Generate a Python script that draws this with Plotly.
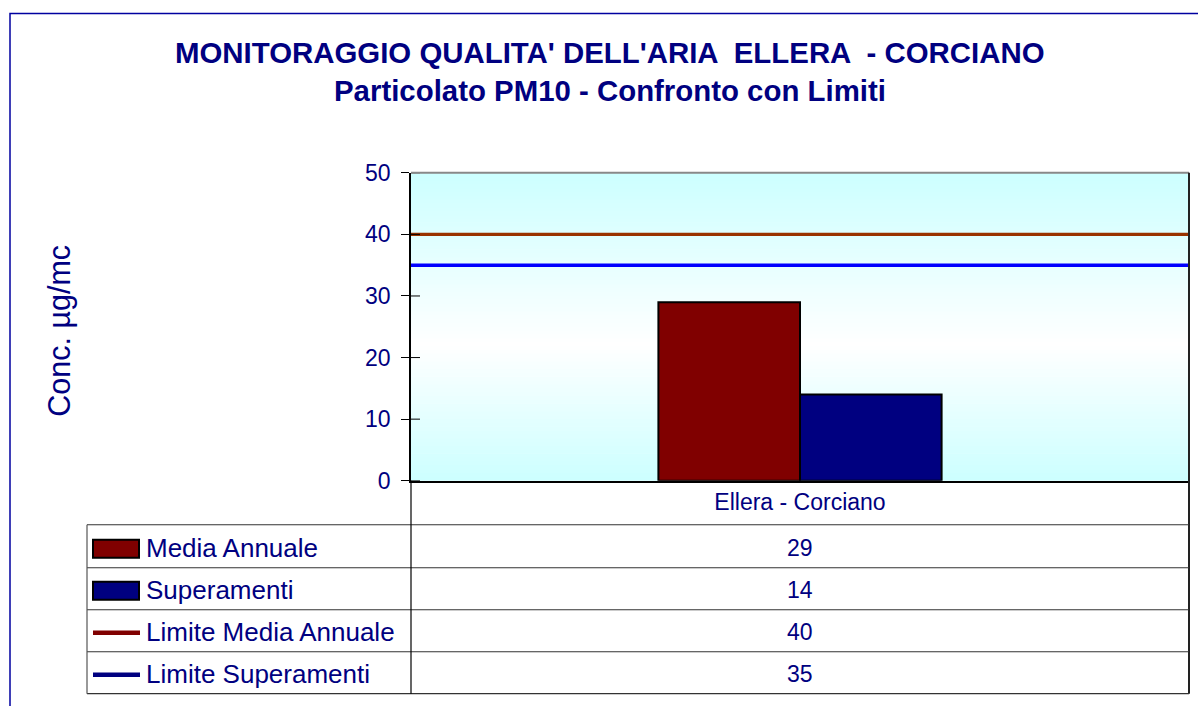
import plotly.graph_objects as go

# ---------------- data ----------------
categories = ["Ellera - Corciano"]
series_names = ["Media Annuale", "Superamenti", "Limite Media Annuale", "Limite Superamenti"]
media_annuale = [29]
superamenti = [14]
limite_media_annuale = [40]
limite_superamenti = [35]
y_ticks = [0, 10, 20, 30, 40, 50]

title_line1 = "MONITORAGGIO QUALITA' DELL'ARIA  ELLERA  - CORCIANO"
title_line2 = "Particolato PM10 - Confronto con Limiti"
y_title = "Conc. µg/mc"

# ---------------- style ----------------
W, H = 1198, 720
NAVY = "#000080"
FONT = "Liberation Sans, Arial, sans-serif"
c_media = "#800000"
c_sup = "#000080"
c_lim_media = "#993300"
c_lim_sup = "#0000FF"
c_key_lim_media = "#800000"
c_key_lim_sup = "#000080"

# vertical compensation for the capture (measured)
Y_OFF, Y_SC = 12.2, 0.964


def px(x):
    return x / W


def py(y):
    yy = (y - Y_OFF) / Y_SC
    return 1 - yy / H


PL, PR, PT, PB = 411, 1189, 172, 480

fig = go.Figure()

fig.add_trace(go.Bar(
    x=categories, y=media_annuale, name=series_names[0],
    marker=dict(color=c_media, line=dict(color="black", width=2)),
))
fig.add_trace(go.Bar(
    x=categories, y=superamenti, name=series_names[1],
    marker=dict(color=c_sup, line=dict(color="black", width=2)),
))
# limit lines across the full plot width (secondary numeric x axis)
fig.add_trace(go.Scatter(
    x=[0, 1], y=limite_media_annuale * 2, xaxis="x2", mode="lines",
    name=series_names[2], line=dict(color=c_lim_media, width=3.2),
))
fig.add_trace(go.Scatter(
    x=[0, 1], y=limite_superamenti * 2, xaxis="x2", mode="lines",
    name=series_names[3], line=dict(color=c_lim_sup, width=3.5),
))

shapes = []
# gradient background of the plot area: cyan at edges, white near the middle
top_c = (204, 255, 255)
bot_c = (204, 255, 255)
white_f = 0.44  # fraction from bottom
N = 80
for i in range(N):
    f0 = i / N
    f1 = (i + 1) / N
    fm = (f0 + f1) / 2
    if fm < white_f:
        t = fm / white_f
        c = tuple(round(bot_c[k] + (255 - bot_c[k]) * t) for k in range(3))
    else:
        t = (fm - white_f) / (1 - white_f)
        c = tuple(round(255 + (top_c[k] - 255) * t) for k in range(3))
    shapes.append(dict(type="rect", xref="x domain", yref="y domain",
                       x0=0, x1=1, y0=f0, y1=f1 + 0.002, layer="below",
                       line=dict(width=0), fillcolor="rgb(%d,%d,%d)" % c))

# inner half of the crossing tick marks
for v in y_ticks:
    shapes.append(dict(type="line", xref="x domain", yref="y",
                       x0=0, x1=9 / (PR - PL), y0=v, y1=v,
                       line=dict(color="black", width=1)))

# plot frame: grey top, dark right
shapes.append(dict(type="line", xref="paper", yref="paper",
                   x0=px(PL), x1=px(PR), y0=py(PT), y1=py(PT),
                   line=dict(color="#888888", width=2)))
shapes.append(dict(type="line", xref="paper", yref="paper",
                   x0=px(PR), x1=px(PR), y0=py(PT), y1=py(693),
                   line=dict(color="#222222", width=2)))

# data table grid
TL = 87
rows = [524, 567, 609, 651, 693]
for r in rows:
    shapes.append(dict(type="line", xref="paper", yref="paper",
                       x0=px(TL), x1=px(PR), y0=py(r), y1=py(r),
                       line=dict(color="#333333", width=1.2)))
shapes.append(dict(type="line", xref="paper", yref="paper",
                   x0=px(TL), x1=px(TL), y0=py(524), y1=py(693),
                   line=dict(color="#555555", width=1.2)))
shapes.append(dict(type="line", xref="paper", yref="paper",
                   x0=px(PL), x1=px(PL), y0=py(PB), y1=py(693),
                   line=dict(color="black", width=1.2)))

# legend keys in the table
shapes.append(dict(type="rect", xref="paper", yref="paper",
                   x0=px(93), x1=px(139), y0=py(557), y1=py(539),
                   fillcolor=c_media, line=dict(color="black", width=2)))
shapes.append(dict(type="rect", xref="paper", yref="paper",
                   x0=px(93), x1=px(139), y0=py(599), y1=py(581),
                   fillcolor=c_sup, line=dict(color="black", width=2)))
shapes.append(dict(type="line", xref="paper", yref="paper",
                   x0=px(93), x1=px(140), y0=py(632), y1=py(632),
                   line=dict(color=c_key_lim_media, width=4.5)))
shapes.append(dict(type="line", xref="paper", yref="paper",
                   x0=px(93), x1=px(140), y0=py(674), y1=py(674),
                   line=dict(color=c_key_lim_sup, width=4.5)))

# outer chart border
shapes.append(dict(type="rect", xref="paper", yref="paper",
                   x0=px(10), x1=1.02, y0=-0.05, y1=min(py(12.5), 0.9993),
                   line=dict(color="#0000A0", width=1.5)))

annotations = []
row_centers = [547, 589, 631, 673]
table_values = [media_annuale[0], superamenti[0], limite_media_annuale[0], limite_superamenti[0]]
for name, val, yc in zip(series_names, table_values, row_centers):
    annotations.append(dict(text=name, xref="paper", yref="paper",
                            x=px(144), y=py(yc), xanchor="left", yanchor="middle",
                            showarrow=False, font=dict(family=FONT, size=26, color=NAVY)))
    annotations.append(dict(text=str(val), xref="paper", yref="paper",
                            x=px((PL + PR) / 2), y=py(yc), xanchor="center", yanchor="middle",
                            showarrow=False, font=dict(family=FONT, size=23, color=NAVY)))

annotations.append(dict(text=y_title, xref="paper", yref="paper",
                        x=px(60), y=py(330), textangle=-90,
                        xanchor="center", yanchor="middle", showarrow=False,
                        font=dict(family=FONT, size=30.5, color=NAVY)))
annotations.append(dict(text="<b>" + title_line1 + "</b>", xref="paper", yref="paper",
                        x=px(610), y=py(52), xanchor="center", yanchor="middle",
                        showarrow=False, font=dict(family=FONT, size=29.4, color=NAVY)))
annotations.append(dict(text="<b>" + title_line2 + "</b>", xref="paper", yref="paper",
                        x=px(610), y=py(90), xanchor="center", yanchor="middle",
                        showarrow=False, font=dict(family=FONT, size=29.4, color=NAVY)))

fig.update_layout(
    width=W, height=H,
    autosize=False,
    margin=dict(l=0, r=0, t=0, b=0, pad=0),
    paper_bgcolor="white",
    plot_bgcolor="rgba(0,0,0,0)",
    showlegend=False,
    barmode="group",
    bargap=0.636,
    bargroupgap=0,
    font=dict(family=FONT, color=NAVY),
    shapes=shapes,
    annotations=annotations,
    xaxis=dict(
        type="category", domain=[px(PL), px(PR)],
        showline=True, linecolor="black", linewidth=2,
        showgrid=False, ticks="", zeroline=False,
        tickfont=dict(family=FONT, size=23, color=NAVY),
        ticklabelstandoff=0,
    ),
    xaxis2=dict(
        overlaying="x", range=[0, 1], visible=False,
        domain=[px(PL), px(PR)], anchor="y",
    ),
    yaxis=dict(
        domain=[py(PB), py(PT)], range=[0, 50],
        tickvals=y_ticks, showline=True, linecolor="black", linewidth=1.5,
        showgrid=False, zeroline=False,
        ticks="outside", ticklen=8, tickcolor="black", tickwidth=1,
        tickfont=dict(family=FONT, size=23, color=NAVY),
        ticklabelstandoff=6,
    ),
)

post = (
    "document.documentElement.style.margin='0';"
    "document.documentElement.style.padding='0';"
    "document.body.style.margin='0';"
    "document.body.style.padding='0';"
    "document.body.style.overflow='hidden';"
)

fig.write_html("out.html", post_script=post, config={"responsive": False, "displayModeBar": False})
